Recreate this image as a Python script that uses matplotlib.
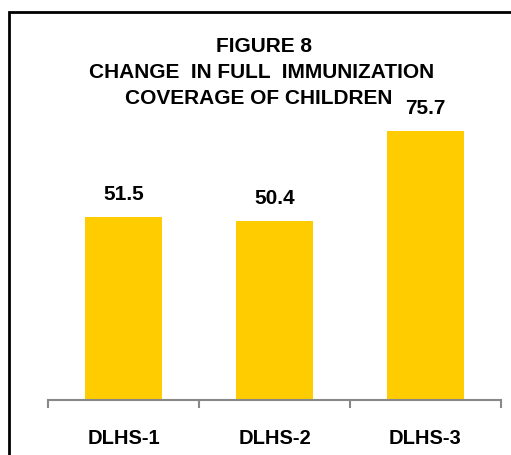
import matplotlib.pyplot as plt
from matplotlib.patches import Rectangle

rounds = ["DLHS-1", "DLHS-2", "DLHS-3"]
coverage = [51.5, 50.4, 75.7]
title_lines = ["FIGURE 8", "CHANGE  IN FULL  IMMUNIZATION", "COVERAGE OF CHILDREN"]

plt.rcParams['font.family'] = ['Liberation Sans', 'DejaVu Sans']

fig = plt.figure(figsize=(5.11, 4.55), dpi=100)
ax = fig.add_axes([48 / 511, 55 / 455, 453 / 511, 355.3 / 455])

x = range(len(rounds))
ax.bar(x, coverage, width=0.51, color='#FFCC00')
for xi, v in zip(x, coverage):
    ax.text(xi, v + 3.6, f"{v}", ha='center', va='bottom',
            fontsize=15, fontweight='bold')

ax.set_xlim(-0.5, 2.5)
ax.set_ylim(0, 100)
ax.set_xticks(list(x))
ax.set_xticklabels(rounds, fontsize=14.5, fontweight='bold')
ax.tick_params(axis='x', which='major', length=0, pad=21)
ax.set_xticks([-0.5, 0.5, 1.5, 2.5], minor=True)
ax.tick_params(axis='x', which='minor', length=6, width=1.5, color='#888888')
ax.set_yticks([])
for side in ['left', 'right', 'top']:
    ax.spines[side].set_visible(False)
ax.spines['bottom'].set_color('#888888')
ax.spines['bottom'].set_linewidth(1.5)

# three-line heading, each line centred on its own
for line, (cx, cy) in zip(title_lines, [(264, 46), (262, 73), (259, 98)]):
    fig.text(cx / 511, 1 - cy / 455, line, ha='center', va='center',
             fontsize=15, fontweight='bold')

# outer frame, open on the right and bottom
fig.add_artist(Rectangle((9 / 511, -0.05), 1.1, 1 - 12 / 455 + 0.05,
                         transform=fig.transFigure, fill=False,
                         edgecolor='black', linewidth=2, clip_on=False))

fig.savefig('out.png', dpi=100)
